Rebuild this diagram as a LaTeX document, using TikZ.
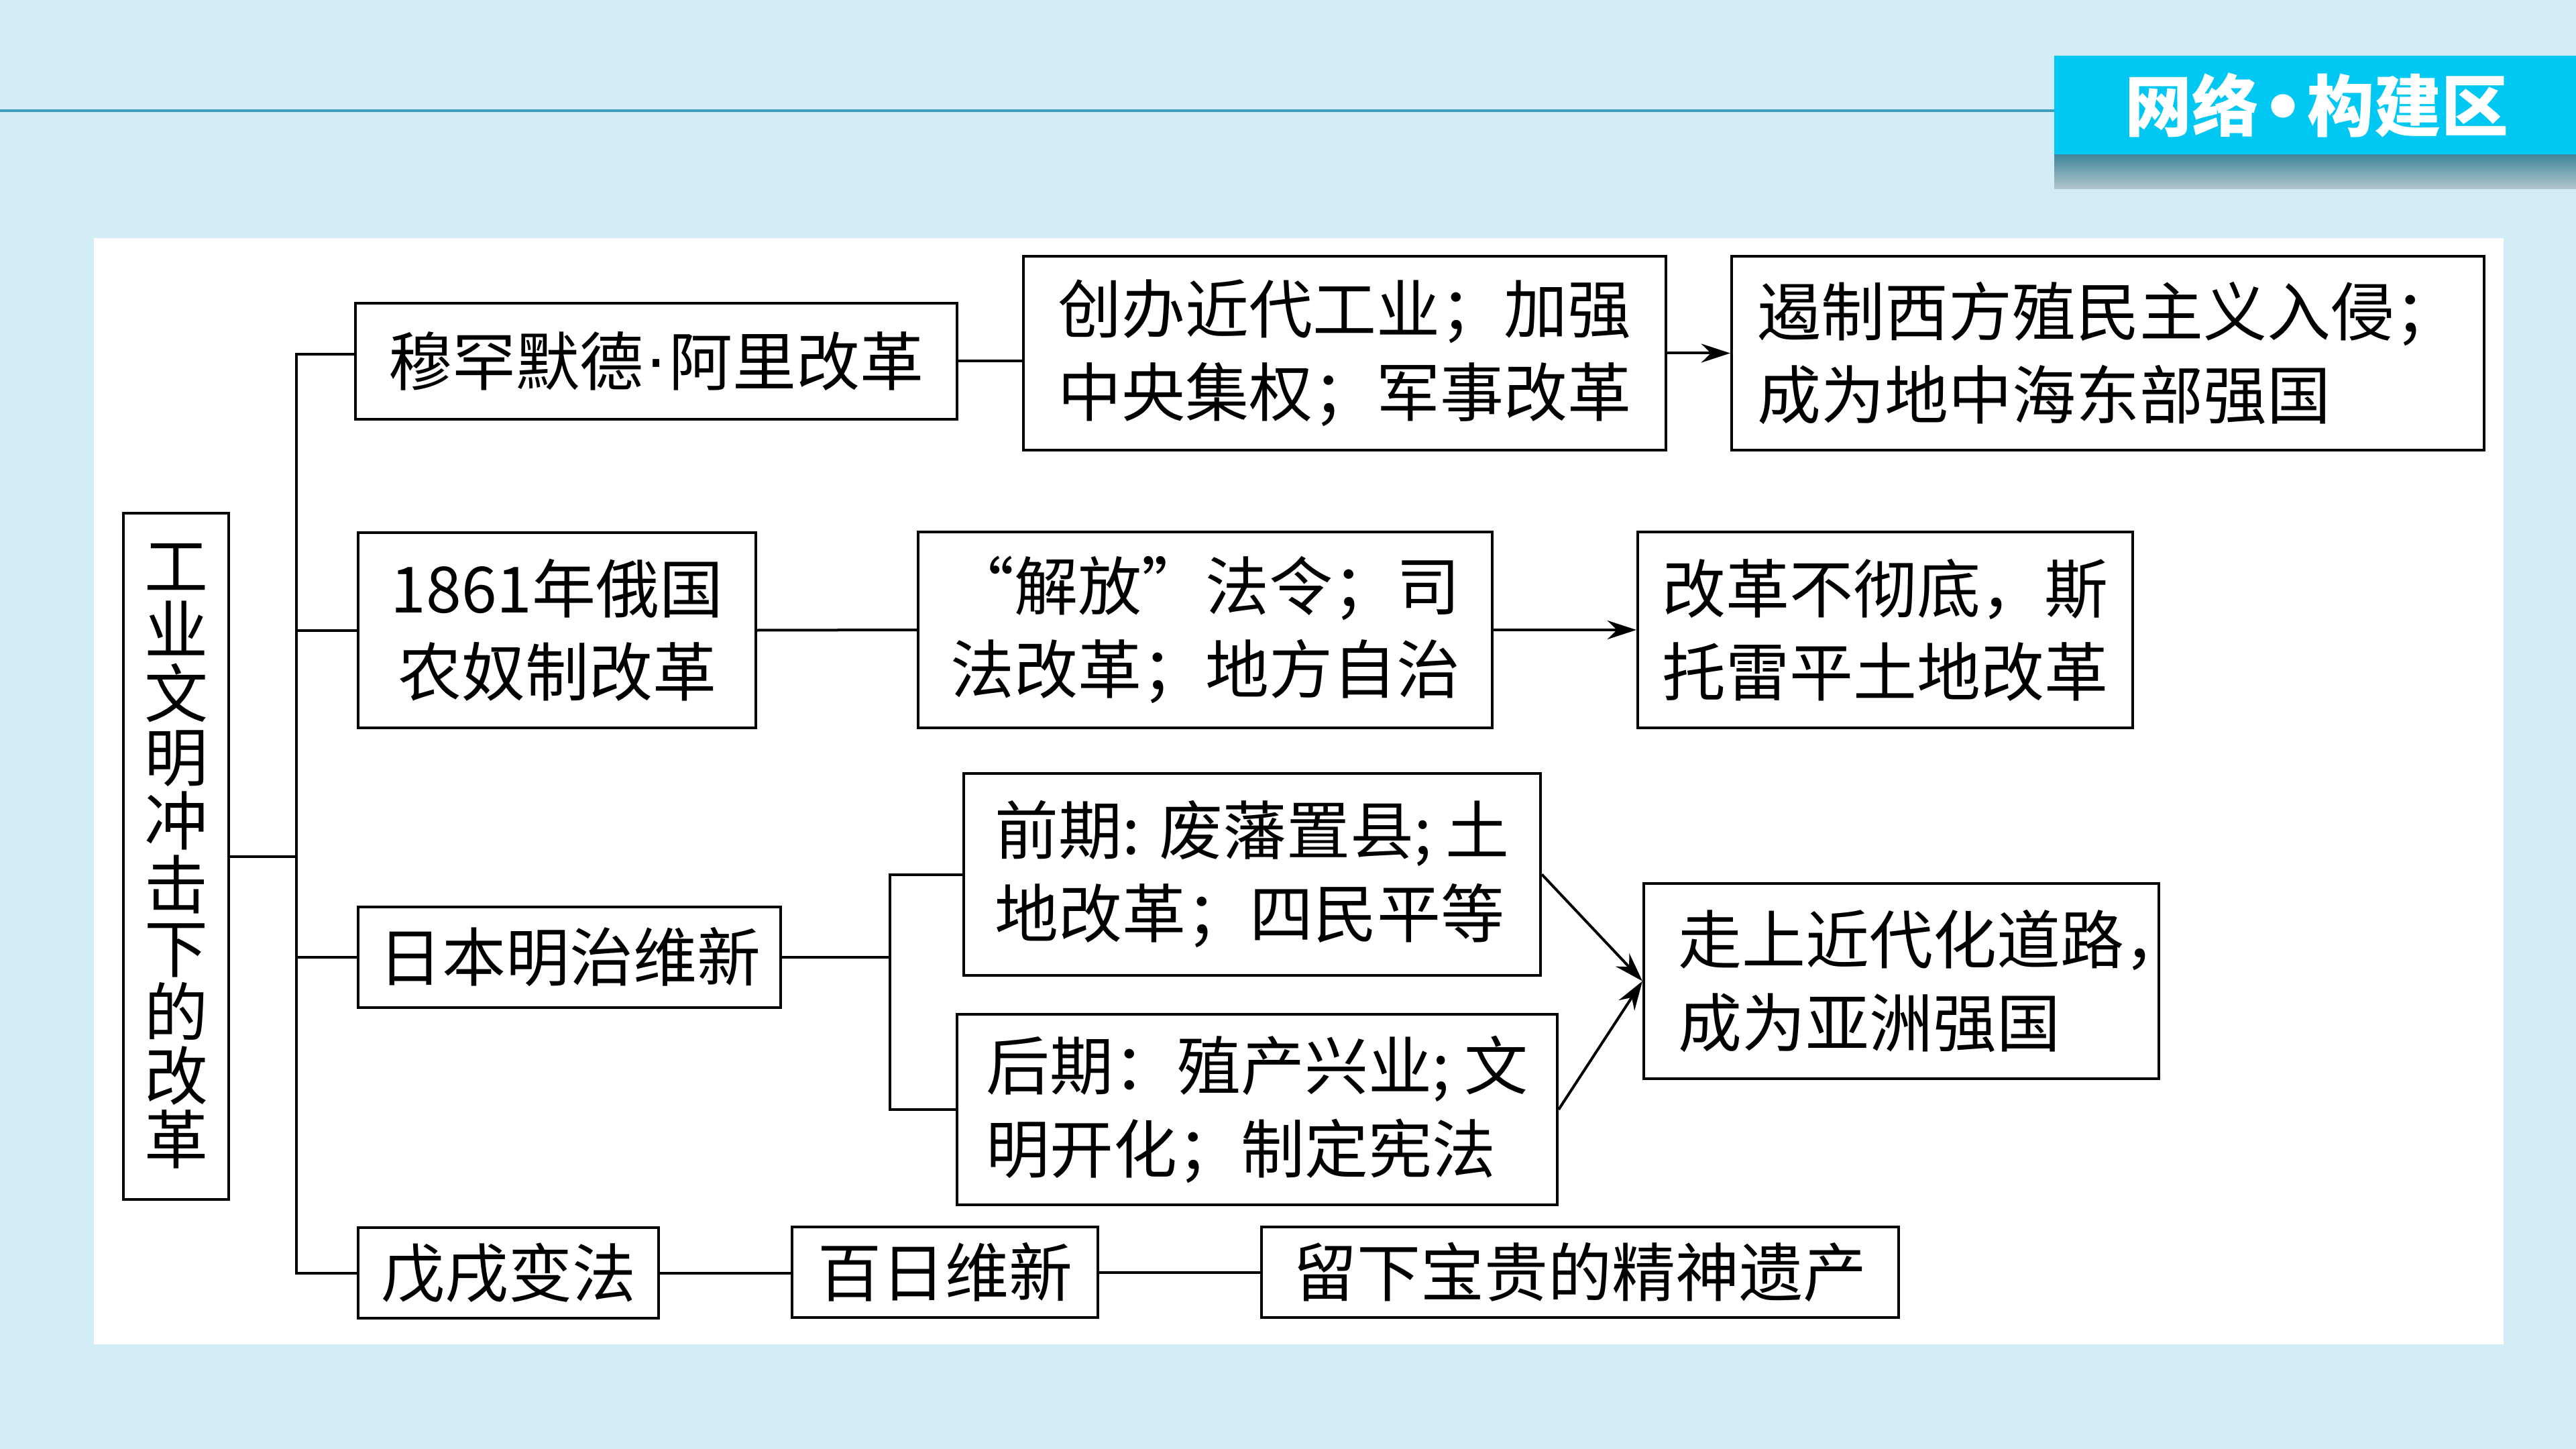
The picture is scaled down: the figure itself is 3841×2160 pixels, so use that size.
\documentclass[tikz,border=0pt]{standalone}
\usepackage{fontspec}
\setmainfont{Noto Sans CJK SC}
\newfontfamily\dotfont{DejaVu Sans}
\usetikzlibrary{arrows.meta}
\definecolor{bgblue}{HTML}{D3EDF7}
\definecolor{rulecol}{HTML}{3D9FBA}
\definecolor{bannercyan}{HTML}{00C8F2}
\definecolor{shadowtop}{HTML}{3E869C}
\definecolor{shadowbot}{HTML}{B4C6CC}
\begin{document}
\begin{tikzpicture}[x=0.25pt,y=-0.25pt,
  box/.style={draw=black,line width=1pt,fill=white,inner sep=0pt,
    font=\fontsize{23.75pt}{31pt}\selectfont},
  conn/.style={draw=black,line width=1pt},
  arr/.style={conn,-{Stealth[length=10.8pt,width=7pt]}}]
\useasboundingbox (0,0) rectangle (3841,2160);
\fill[bgblue] (0,0) rectangle (3841,2160);
% header
\coordinate (rulestart) at (0,165);
\coordinate (ruleend) at (3063,165);
\draw[rulecol,line width=1pt] (rulestart) -- (ruleend);
\shade[top color=shadowtop,bottom color=shadowbot] (3063,230) rectangle (3841,282);
\fill[bannercyan] (3063,83) rectangle (3841,230);
\node[font=\fontsize{25pt}{25pt}\selectfont\bfseries,text=white,inner sep=0pt] (title) at (3454,157) {网络\kern1pt{\dotfont\bfseries •}\kern1pt 构建区};
% panel
\fill[white] (140,355) rectangle (3733,2004);
% nodes
\node[box,minimum width=39.25pt,minimum height=255.75pt,align=center,
  font=\fontsize{23.75pt}{23.75pt}\selectfont] (root) at (262.5,1276.5)
  {工\\业\\文\\明\\冲\\击\\下\\的\\改\\革};
\node[box,minimum width=224.25pt,minimum height=43.25pt] (b1) at (978.5,538.5) {穆罕默德{\dotfont\kern1pt·\kern1pt}阿里改革};
\node[box,minimum width=239.5pt,minimum height=72.25pt,align=left] (b2) at (2005,526.5) {创办近代工业；加强\\中央集权；军事改革};
\node[box,minimum width=280.5pt,minimum height=72.25pt,align=left] (b3) at (3143,526.5) {遏制西方殖民主义入侵；\\成为地中海东部强国};
\node[box,minimum width=148.25pt,minimum height=72.75pt,align=center] (b4) at (830.5,939.5) {1861年俄国\\农奴制改革};
\node[box,minimum width=214pt,minimum height=73pt,align=right] (b5) at (1797,939) {“解放”法令；司\\法改革；地方自治};
\node[box,minimum width=184.5pt,minimum height=73pt,align=left] (b6) at (2811,939) {改革不彻底，斯\\托雷平土地改革};
\node[box,minimum width=157.5pt,minimum height=37.5pt] (b8) at (849,1427) {日本明治维新};
\node[box,minimum width=215pt,minimum height=75.25pt,align=left] (b9) at (1867,1303.5) {前期: 废藩置县; 土\\地改革；四民平等};
\node[box,minimum width=223.75pt,minimum height=71pt,align=left] (b10) at (1874.5,1654) {后期：殖产兴业; 文\\明开化；制定宪法};
\node[box,minimum width=192pt,minimum height=72.75pt,align=left] (b11) at (2835,1462.5) {走上近代化道路\rlap{，}\\成为亚洲强国};
\node[box,minimum width=112pt,minimum height=33.75pt] (b12) at (758,1897.5) {戊戌变法};
\node[box,minimum width=114pt,minimum height=33.75pt] (b13) at (1409,1896.5) {百日维新};
\node[box,minimum width=237.5pt,minimum height=33.75pt] (b14) at (2356,1896.5) {留下宝贵的精神遗产};
% trunk
\coordinate (ttop) at (442,528);
\coordinate (tmid) at (442,1276.5);
\coordinate (tbot) at (442,1897.5);
\draw[conn] (b1.west |- ttop) -- (ttop) -- (tbot) -- (b12.west);
\draw[conn] (root.east) -- (tmid);
\draw[conn] (ttop |- b4.west) -- (b4.west);
\draw[conn] (ttop |- b8.west) -- (b8.west);
% row 1
\draw[conn] (b1.east) -- (b1.east -| b2.west);
\draw[arr] (b2.east) -- (b3.west);
% row 2
\draw[conn] (b4.east) -- (b5.west);
\draw[arr] (b5.east) -- (b6.west);
% row 3
\coordinate (fk) at (1327,1427);
\draw[conn] (b8.east) -- (fk);
\draw[conn] (b9.west) -- (b9.west -| fk) -- (b10.west -| fk) -- (b10.west);
\draw[arr] (b9.east) -- (b11.west);
\draw[arr] (b10.east) -- (b11.west);
% row 4
\draw[conn] (b12.east) -- (b12.east -| b13.west);
\draw[conn] (b13.east) -- (b13.east -| b14.west);
\end{tikzpicture}
\end{document}
